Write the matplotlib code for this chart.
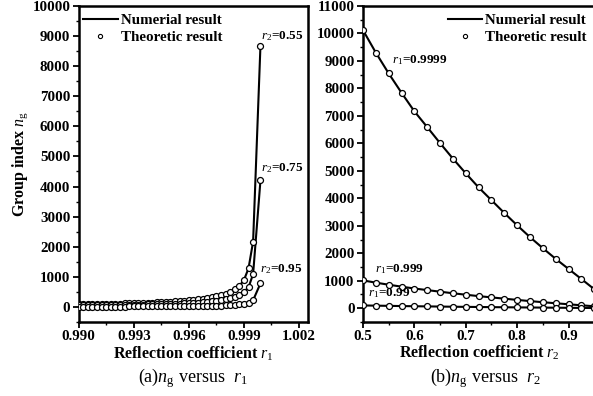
import numpy as np
import matplotlib
matplotlib.use("Agg")
import matplotlib.pyplot as plt
from matplotlib.ticker import MultipleLocator

plt.rcParams['font.family'] = 'Liberation Serif'
plt.rcParams['mathtext.fontset'] = 'custom'
plt.rcParams['mathtext.rm'] = 'Liberation Serif'
plt.rcParams['mathtext.it'] = 'Liberation Serif:italic'
plt.rcParams['mathtext.bf'] = 'Liberation Serif:bold'

# (a) group index versus r1, for three values of r2
r1_grid = [0.99000, 0.99025, 0.99050, 0.99075, 0.99100, 0.99125, 0.99150, 0.99175,
           0.99200, 0.99225, 0.99250, 0.99275, 0.99300, 0.99325, 0.99350, 0.99375,
           0.99400, 0.99425, 0.99450, 0.99475, 0.99500, 0.99525, 0.99550, 0.99575,
           0.99600, 0.99625, 0.99650, 0.99675, 0.99700, 0.99725, 0.99750, 0.99775,
           0.99800, 0.99825, 0.99850, 0.99875, 0.99900, 0.99925, 0.99950, 0.99990]
ng_r2_055 = [87, 89, 92, 94, 97, 99, 102, 105, 109, 112, 116, 120, 124, 129, 134, 139,
             145, 151, 158, 166, 174, 183, 193, 205, 218, 232, 249, 268, 290, 316, 348, 387,
             435, 497, 580, 696, 890, 1280, 2170, 8670]
ng_r2_075 = [50, 51, 53, 54, 56, 57, 59, 61, 63, 65, 67, 69, 71, 74, 77, 80,
             83, 87, 91, 95, 100, 105, 111, 118, 125, 133, 143, 154, 167, 182, 200, 222,
             250, 286, 333, 400, 500, 650, 1090, 4200]
ng_r2_095 = [10, 10, 11, 11, 11, 11, 12, 12, 13, 13, 13, 14, 14, 15, 15, 16,
             17, 17, 18, 19, 20, 21, 22, 24, 25, 27, 29, 31, 33, 36, 40, 44,
             50, 57, 67, 80, 100, 130, 220, 780]

# (b) group index versus r2, for three values of r1
r2_grid = [0.500, 0.525, 0.550, 0.575, 0.600, 0.625, 0.650, 0.675, 0.700, 0.725,
           0.750, 0.775, 0.800, 0.825, 0.850, 0.875, 0.900, 0.925, 0.950, 0.975]
ng_r1_09999 = [10120, 9300, 8545, 7840, 7165, 6590, 6007, 5443, 4908, 4395,
               3930, 3465, 3015, 2586, 2183, 1795, 1428, 1062, 690, 340]
ng_r1_0999 = [1012, 930, 855, 784, 717, 659, 601, 544, 491, 440,
              394, 347, 302, 259, 218, 180, 143, 106, 70, 34]
ng_r1_099 = [101, 93, 86, 78, 72, 66, 60, 54, 49, 44,
             39, 35, 30, 26, 22, 18, 14, 11, 7, 3]

fig = plt.figure(figsize=(5.93, 3.96), dpi=100)
ax1 = fig.add_axes([0.1327, 0.187, 0.3870, 0.798])
ax2 = fig.add_axes([0.6121, 0.187, 0.4334, 0.798])

mk = dict(marker='o', markersize=4.3, markerfacecolor='white',
          markeredgecolor='black', markeredgewidth=0.9)


def style(ax):
    for s in ax.spines.values():
        s.set_linewidth(1.8)
    ax.tick_params(which='major', direction='out', length=4, width=1.3, top=False, right=False, pad=2)
    ax.tick_params(which='minor', direction='out', length=2.5, width=1.0, top=False, right=False)
    for lab in ax.get_xticklabels() + ax.get_yticklabels():
        lab.set_fontsize(10.8)
        lab.set_fontweight('bold')


# panel (a)
for ng in (ng_r2_055, ng_r2_075, ng_r2_095):
    ax1.plot(r1_grid, ng, color='black', lw=1.5, zorder=2)
    ax1.plot(r1_grid, ng, ls='none', zorder=3, **mk)
ax1.set_xlim(0.990, 1.0025)
ax1.set_ylim(-500, 10000)
ax1.xaxis.set_minor_locator(MultipleLocator(0.0015))
ax1.yaxis.set_major_locator(MultipleLocator(1000))
ax1.yaxis.set_minor_locator(MultipleLocator(500))
ax1.set_xticks([0.990, 0.993, 0.996, 0.999, 1.002])
ax1.set_xticklabels(['0.990', '0.993', '0.996', '0.999', '1.002'])
style(ax1)
ax1.set_xlabel(r'Reflection coefficient $r_{\mathrm{1}}$', fontsize=11.5, fontweight='bold', labelpad=1)
ax1.set_ylabel(r'Group index $n_{\mathrm{g}}$', fontsize=11.5, fontweight='bold', labelpad=2)
ax1.text(0.99995, 8880, r'$r_{\mathrm{2}}$=0.55', fontsize=9.5, fontweight='bold')
ax1.text(0.99995, 4500, r'$r_{\mathrm{2}}$=0.75', fontsize=9.5, fontweight='bold')
ax1.text(0.99990, 1150, r'$r_{\mathrm{2}}$=0.95', fontsize=9.5, fontweight='bold')

# panel (b)
for ng in (ng_r1_09999, ng_r1_0999, ng_r1_099):
    ax2.plot(r2_grid, ng, color='black', lw=1.5, zorder=2)
    ax2.plot(r2_grid, ng, ls='none', zorder=3, **mk)
ax2.set_xlim(0.5, 1.0)
ax2.set_ylim(-500, 11000)
ax2.set_xticks([0.5, 0.6, 0.7, 0.8, 0.9])
ax2.set_xticklabels(['0.5', '0.6', '0.7', '0.8', '0.9'])
ax2.xaxis.set_minor_locator(MultipleLocator(0.05))
ax2.yaxis.set_major_locator(MultipleLocator(1000))
ax2.yaxis.set_minor_locator(MultipleLocator(500))
style(ax2)
ax2.text(0.557, 8900, r'$r_{\mathrm{1}}$=0.9999', fontsize=9.5, fontweight='bold')
ax2.text(0.524, 1300, r'$r_{\mathrm{1}}$=0.999', fontsize=9.5, fontweight='bold')
ax2.text(0.509, 420, r'$r_{\mathrm{1}}$=0.99', fontsize=9.5, fontweight='bold')
fig.text(0.809, 0.108, r'Reflection coefficient $r_{\mathrm{2}}$',
         ha='center', va='center', fontsize=11.5, fontweight='bold')

# legends, anchored in figure coordinates
for x0 in (0.140, 0.755):
    h1, = ax1.plot([], [], color='black', lw=1.5)
    h2, = ax1.plot([], [], ls='none', marker='o', markersize=3, markerfacecolor='white',
                   markeredgecolor='black', markeredgewidth=0.8)
    fig.legend([h1, h2], ['Numerial result', 'Theoretic result'], loc='upper left',
               bbox_to_anchor=(x0, 0.965), frameon=False, handlelength=2.3,
               handletextpad=0.2, labelspacing=0.2, borderaxespad=0, borderpad=0,
               prop=dict(family='Liberation Serif', weight='bold', size=10.8))

fig.text(0.3245, 0.045, r'(a)$n_{\mathrm{g}}$ versus  $r_{\mathrm{1}}$', ha='center', va='center', fontsize=13)
fig.text(0.8190, 0.045, r'(b)$n_{\mathrm{g}}$ versus  $r_{\mathrm{2}}$', ha='center', va='center', fontsize=13)

fig.savefig('out.png', dpi=100)
